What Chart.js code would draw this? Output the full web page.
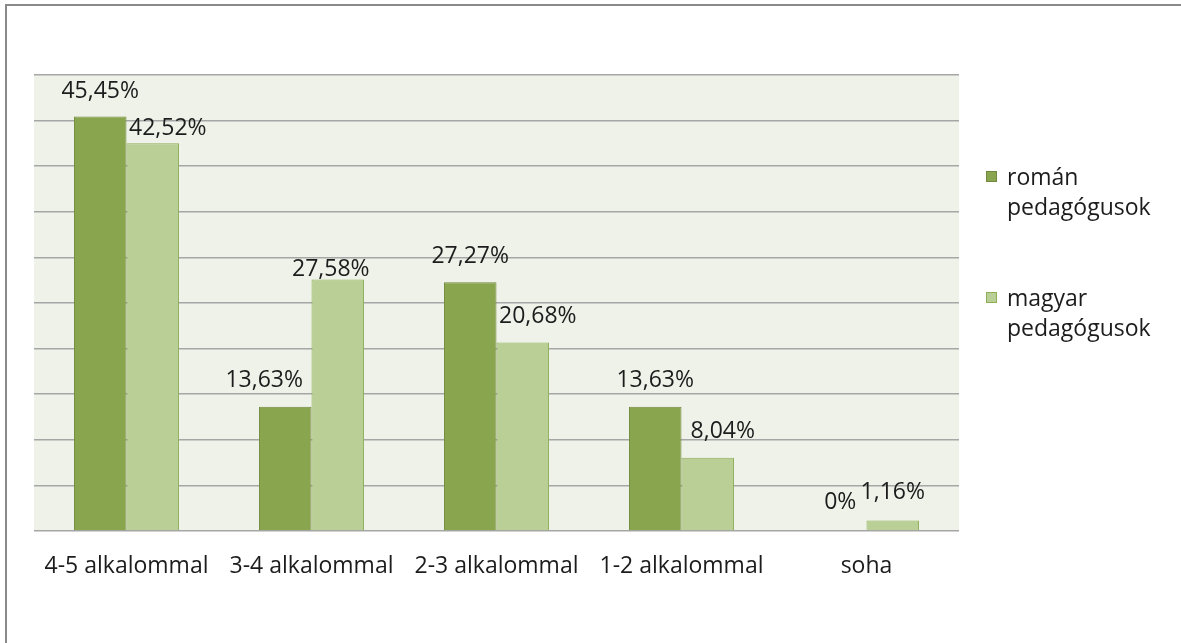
<!DOCTYPE html>
<html>
<head>
<meta charset="utf-8">
<script src="https://cdn.jsdelivr.net/npm/chart.js@4.4.1/dist/chart.umd.min.js"></script>
<style>
  html,body{margin:0;padding:0;background:#fff;}
  #wrap{width:1181px;height:643px;position:relative;}
</style>
</head>
<body>
<div id="wrap"><canvas id="c" width="1181" height="643"></canvas></div>
<script>
// data
const categories = ["4-5 alkalommal", "3-4 alkalommal", "2-3 alkalommal", "1-2 alkalommal", "soha"];
const romanValues = [45.45, 13.63, 27.27, 13.63, 0];
const magyarValues = [42.52, 27.58, 20.68, 8.04, 1.16];
const seriesNames = [["román", "pedagógusok"], ["magyar", "pedagógusok"]];
const yMax = 50, yStep = 5;

const FONT = "'Open Sans', Lato, sans-serif";
const FSIZE = 23;
const TXT = "#1c1c1c";

// label nudges (dx, dy) relative to default spot above bar
const nudges = [
  [[0,1],[-21,0],[0,0],[0,0],[0,-3]],
  [[15,11],[-7,16],[15,0],[15,0],[0,-2]]
];

function fmtPct(v){
  return (v === 0 ? "0" : v.toFixed(2).replace(".", ",")) + "%";
}

const frame = {
  id: "frame",
  beforeDraw(chart){
    const {ctx, chartArea:a} = chart;
    ctx.save();
    ctx.fillStyle = "#fff";
    ctx.fillRect(0, 0, chart.width, chart.height);
    ctx.strokeStyle = "#8a8a8a";
    ctx.lineWidth = 2;
    ctx.beginPath();
    ctx.moveTo(6, chart.height);
    ctx.lineTo(6, 5);
    ctx.lineTo(chart.width, 5);
    ctx.stroke();
    ctx.fillStyle = "#eff2e9";
    ctx.fillRect(a.left, a.top, a.right - a.left, a.bottom - a.top);
    ctx.restore();
  }
};

const valueLabels = {
  id: "valueLabels",
  afterDatasetsDraw(chart){
    const ctx = chart.ctx;
    ctx.save();
    ctx.font = FSIZE + "px " + FONT;
    ctx.fillStyle = TXT;
    ctx.textAlign = "center";
    ctx.textBaseline = "middle";
    chart.data.datasets.forEach((ds, di)=>{
      chart.getDatasetMeta(di).data.forEach((bar, i)=>{
        const n = nudges[di][i];
        ctx.fillText(fmtPct(ds.data[i]), bar.x + n[0], bar.y - 26 + n[1]);
      });
    });
    ctx.restore();
  }
};

const sideLegend = {
  id: "sideLegend",
  afterDraw(chart){
    const ctx = chart.ctx;
    ctx.save();
    ctx.font = FSIZE + "px " + FONT;
    ctx.textBaseline = "middle";
    const tops = [178, 299];
    chart.data.datasets.forEach((ds, di)=>{
      const y = tops[di];
      ctx.fillStyle = ds.backgroundColor;
      ctx.strokeStyle = ds.borderColor;
      ctx.lineWidth = 1;
      ctx.fillRect(986.5, y - 6.5, 10, 10);
      ctx.strokeRect(986.5, y - 6.5, 10, 10);
      ctx.fillStyle = TXT;
      seriesNames[di].forEach((line, li)=>{
        ctx.fillText(line, 1007, y + li * 30);
      });
    });
    ctx.restore();
  }
};

new Chart(document.getElementById("c").getContext("2d"), {
  type: "bar",
  data: {
    labels: categories,
    datasets: [
      {label: seriesNames[0].join(" "), data: romanValues, backgroundColor: "#89a54e", borderColor: "#71893f", borderWidth: 1},
      {label: seriesNames[1].join(" "), data: magyarValues, backgroundColor: "#bacf96", borderColor: "#8eae57", borderWidth: 1}
    ]
  },
  options: {
    responsive: false,
    animation: false,
    devicePixelRatio: 1,
    layout: {padding: {left: 34, right: 222, top: 75, bottom: 0}},
    datasets: {bar: {categoryPercentage: 0.568, barPercentage: 1.0}},
    plugins: {legend: {display: false}, tooltip: {enabled: false}},
    scales: {
      x: {
        grid: {display: false},
        border: {display: false},
        ticks: {font: {family: FONT, size: FSIZE}, color: TXT, padding: 14, maxRotation: 0, autoSkip: false},
        afterFit(s){ s.height = 643 - 531; }
      },
      y: {
        min: 0, max: yMax,
        ticks: {display: false, stepSize: yStep},
        grid: {color: "#a6a6a6", lineWidth: 1.5, drawTicks: false},
        border: {display: false},
        afterFit(s){ s.width = 0; }
      }
    }
  },
  plugins: [frame, valueLabels, sideLegend]
});
</script>
</body>
</html>
